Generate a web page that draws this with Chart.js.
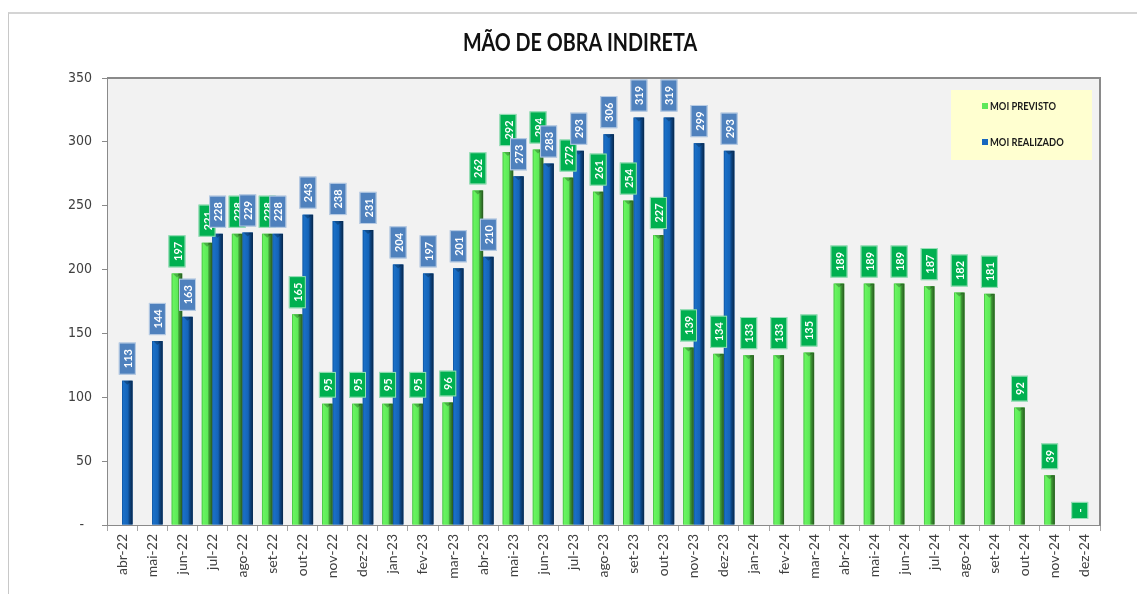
<!DOCTYPE html>
<html lang="pt-BR">
<head>
<meta charset="utf-8">
<title>Mão de Obra Indireta</title>
<script src="https://cdn.jsdelivr.net/npm/chart.js@4.4.1/dist/chart.umd.min.js"></script>
<style>
  html, body { margin: 0; padding: 0; background: #ffffff; overflow: hidden; }
  .moldura {
    position: absolute; left: 8px; top: 12px; width: 1200px; height: 700px;
    border-top: 2px solid #d4d4d4; border-left: 1px solid #c8c8c8;
  }
  .grafico { position: absolute; left: 0; top: 0; width: 1137px; height: 594px; }
</style>
</head>
<body>
<div class="moldura"></div>
<div class="grafico"><canvas id="moiChart"></canvas></div>
<script>
const meses = [
    'abr-22', 'mai-22', 'jun-22', 'jul-22', 'ago-22', 'set-22', 'out-22', 'nov-22', 'dez-22',
    'jan-23', 'fev-23', 'mar-23', 'abr-23', 'mai-23', 'jun-23', 'jul-23', 'ago-23', 'set-23',
    'out-23', 'nov-23', 'dez-23', 'jan-24', 'fev-24', 'mar-24', 'abr-24', 'mai-24', 'jun-24',
    'jul-24', 'ago-24', 'set-24', 'out-24', 'nov-24', 'dez-24'
];

const moiPrevisto = [
    null, null, 197, 221, 228, 228, 165, 95, 95,
    95, 95, 96, 262, 292, 294, 272, 261, 254,
    227, 139, 134, 133, 133, 135, 189, 189, 189,
    187, 182, 181, 92, 39, 0
];

const moiRealizado = [
    113, 144, 163, 228, 229, 228, 243, 238, 231,
    204, 197, 201, 210, 273, 283, 293, 306, 319,
    319, 299, 293, null, null, null, null, null, null,
    null, null, null, null, null, null
];

const ticksY = [0, 50, 100, 150, 200, 250, 300, 350];

const titulo = 'MÃO DE OBRA INDIRETA';

const fonteEstreita = "'DejaVu Sans Condensed', sans-serif";
const fonte = "Lato, 'Open Sans', sans-serif";

// cores das barras (efeito cilindro) e das etiquetas de valor
const estilos = [
    {
        base: '#5ee85a',
        degrade: [[0, '#3fb23c'], [0.12, '#68f560'], [0.55, '#5ee958'], [0.68, '#3f9e36'], [1, '#27561f']],
        etiqueta: '#00b050'
    },
    {
        base: '#1767be',
        degrade: [[0, '#0d4f98'], [0.12, '#1a70c8'], [0.55, '#1564b8'], [0.7, '#0c4686'], [1, '#08274a']],
        etiqueta: '#4f81bd'
    }
];

// texto em negrito comprimido na horizontal
function textoEstreito(ctx, txt, x, y, tam, escala, alinhar) {
    ctx.save();
    ctx.font = 'bold ' + tam + 'px ' + fonte;
    ctx.textAlign = alinhar;
    ctx.textBaseline = 'middle';
    ctx.translate(x, y);
    ctx.scale(escala, 1);
    ctx.fillText(txt, 0, 0);
    ctx.restore();
}

// título centralizado no topo
const tituloMoi = {
    id: 'tituloMoi',
    afterDraw(chart) {
        const ctx = chart.ctx;
        ctx.fillStyle = '#111111';
        textoEstreito(ctx, titulo, 580, 43, 25, 0.79, 'center');
    }
};

// fundo cinza e borda da área de plotagem
const fundoArea = {
    id: 'fundoArea',
    beforeDraw(chart) {
        const { ctx, chartArea: a } = chart;
        ctx.save();
        ctx.fillStyle = '#f2f2f2';
        ctx.fillRect(a.left, a.top, a.right - a.left, a.bottom - a.top);
        ctx.restore();
    },
    afterDraw(chart) {
        const { ctx, chartArea: a } = chart;
        ctx.save();
        ctx.strokeStyle = '#8a8a8a';
        ctx.lineWidth = 2;
        ctx.beginPath();
        ctx.moveTo(a.left, a.top);
        ctx.lineTo(a.right, a.top);
        ctx.lineTo(a.right, a.bottom);
        ctx.stroke();
        ctx.restore();
    }
};

// pinta cada barra com degradê horizontal
const barras3d = {
    id: 'barras3d',
    afterDatasetsDraw(chart) {
        const ctx = chart.ctx;
        chart.data.datasets.forEach((ds, i) => {
            const meta = chart.getDatasetMeta(i);
            meta.data.forEach((bar, j) => {
                if (ds.data[j] === null || ds.data[j] === 0) return;
                const { x, y, base, width } = bar.getProps(['x', 'y', 'base', 'width'], true);
                const esq = x - width / 2;
                const g = ctx.createLinearGradient(esq, 0, esq + width, 0);
                estilos[i].degrade.forEach(([p, c]) => g.addColorStop(p, c));
                ctx.save();
                ctx.fillStyle = g;
                ctx.fillRect(esq, y, width, base - y);
                // tampa do cilindro
                ctx.fillStyle = 'rgba(0,0,0,0.25)';
                ctx.beginPath();
                ctx.moveTo(esq + 1, y);
                ctx.lineTo(esq + width - 1, y);
                ctx.lineTo(x, y + 4);
                ctx.closePath();
                ctx.fill();
                ctx.restore();
            });
        });
    }
};

// etiquetas de valor em caixas, texto vertical
const etiquetas = {
    id: 'etiquetas',
    afterDatasetsDraw(chart) {
        const ctx = chart.ctx;
        ctx.save();
        ctx.font = 'bold 11px ' + fonte;
        chart.data.datasets.forEach((ds, i) => {
            const meta = chart.getDatasetMeta(i);
            meta.data.forEach((bar, j) => {
                const v = ds.data[j];
                if (v === null) return;
                const txt = v === 0 ? '-' : String(v);
                const { x, y } = bar.getProps(['x', 'y'], true);
                const alt = ctx.measureText(txt).width + 13;
                const larg = 17;
                const fundo = y - 6;
                ctx.fillStyle = estilos[i].etiqueta;
                ctx.fillRect(x - larg / 2, fundo - alt, larg, alt);
                ctx.strokeStyle = 'rgba(255,255,255,0.6)';
                ctx.lineWidth = 1;
                ctx.strokeRect(x - larg / 2 + 0.5, fundo - alt + 0.5, larg - 1, alt - 1);
                ctx.save();
                ctx.translate(x, fundo - alt / 2);
                ctx.rotate(-Math.PI / 2);
                ctx.fillStyle = '#ffffff';
                ctx.textAlign = 'center';
                ctx.textBaseline = 'middle';
                ctx.fillText(txt, 0, 1);
                ctx.restore();
            });
        });
        ctx.restore();
    }
};

// legenda dentro da área de plotagem, canto superior direito
const legendaMoi = {
    id: 'legendaMoi',
    afterDraw(chart) {
        const { ctx, chartArea: a } = chart;
        const w = 141, h = 70;
        const x0 = a.right - 8 - w, y0 = a.top + 12;
        ctx.save();
        ctx.fillStyle = '#ffffd0';
        ctx.fillRect(x0, y0, w, h);
        chart.data.datasets.forEach((ds, i) => {
            const cy = y0 + 16 + i * 36;
            ctx.fillStyle = estilos[i].base;
            ctx.fillRect(x0 + 31, cy - 3, 6, 6);
            ctx.fillStyle = '#1a1a1a';
            textoEstreito(ctx, ds.label, x0 + 39, cy, 11, 0.85, 'left');
        });
        ctx.restore();
    }
};

const ctx = document.getElementById('moiChart').getContext('2d');

new Chart(ctx, {
    type: 'bar',
    data: {
        labels: meses,
        datasets: [
            {
                label: 'MOI PREVISTO',
                data: moiPrevisto,
                backgroundColor: estilos[0].base,
                borderWidth: 0,
                categoryPercentage: 0.7,
                barPercentage: 1.0
            },
            {
                label: 'MOI REALIZADO',
                data: moiRealizado,
                backgroundColor: estilos[1].base,
                borderWidth: 0,
                categoryPercentage: 0.7,
                barPercentage: 1.0
            }
        ]
    },
    options: {
        responsive: true,
        maintainAspectRatio: false,
        animation: false,
        layout: { padding: { top: 78, left: 8, right: 37, bottom: 0 } },
        plugins: {
            legend: { display: false },
            tooltip: { enabled: false },
            title: { display: false }
        },
        scales: {
            y: {
                min: 0,
                max: 350,
                afterFit(scale) { scale.width = 99; },
                afterBuildTicks(scale) { scale.ticks = ticksY.map(v => ({ value: v })); },
                ticks: {
                    color: '#404040',
                    font: { family: fonteEstreita, size: 14 },
                    padding: 10,
                    callback: v => (v === 0 ? '-  ' : v)
                },
                grid: { drawOnChartArea: false, tickLength: 5, color: '#8a8a8a' },
                border: { color: '#8a8a8a' }
            },
            x: {
                afterFit(scale) { scale.height = 69; },
                ticks: {
                    color: '#404040',
                    font: { family: fonte, size: 14 },
                    autoSkip: false,
                    minRotation: 90,
                    maxRotation: 90,
                    padding: 3
                },
                grid: { drawOnChartArea: false, tickLength: 6, color: '#a6a6a6' },
                border: { color: '#8a8a8a' }
            }
        }
    },
    plugins: [fundoArea, barras3d, etiquetas, legendaMoi, tituloMoi]
});
</script>
</body>
</html>
